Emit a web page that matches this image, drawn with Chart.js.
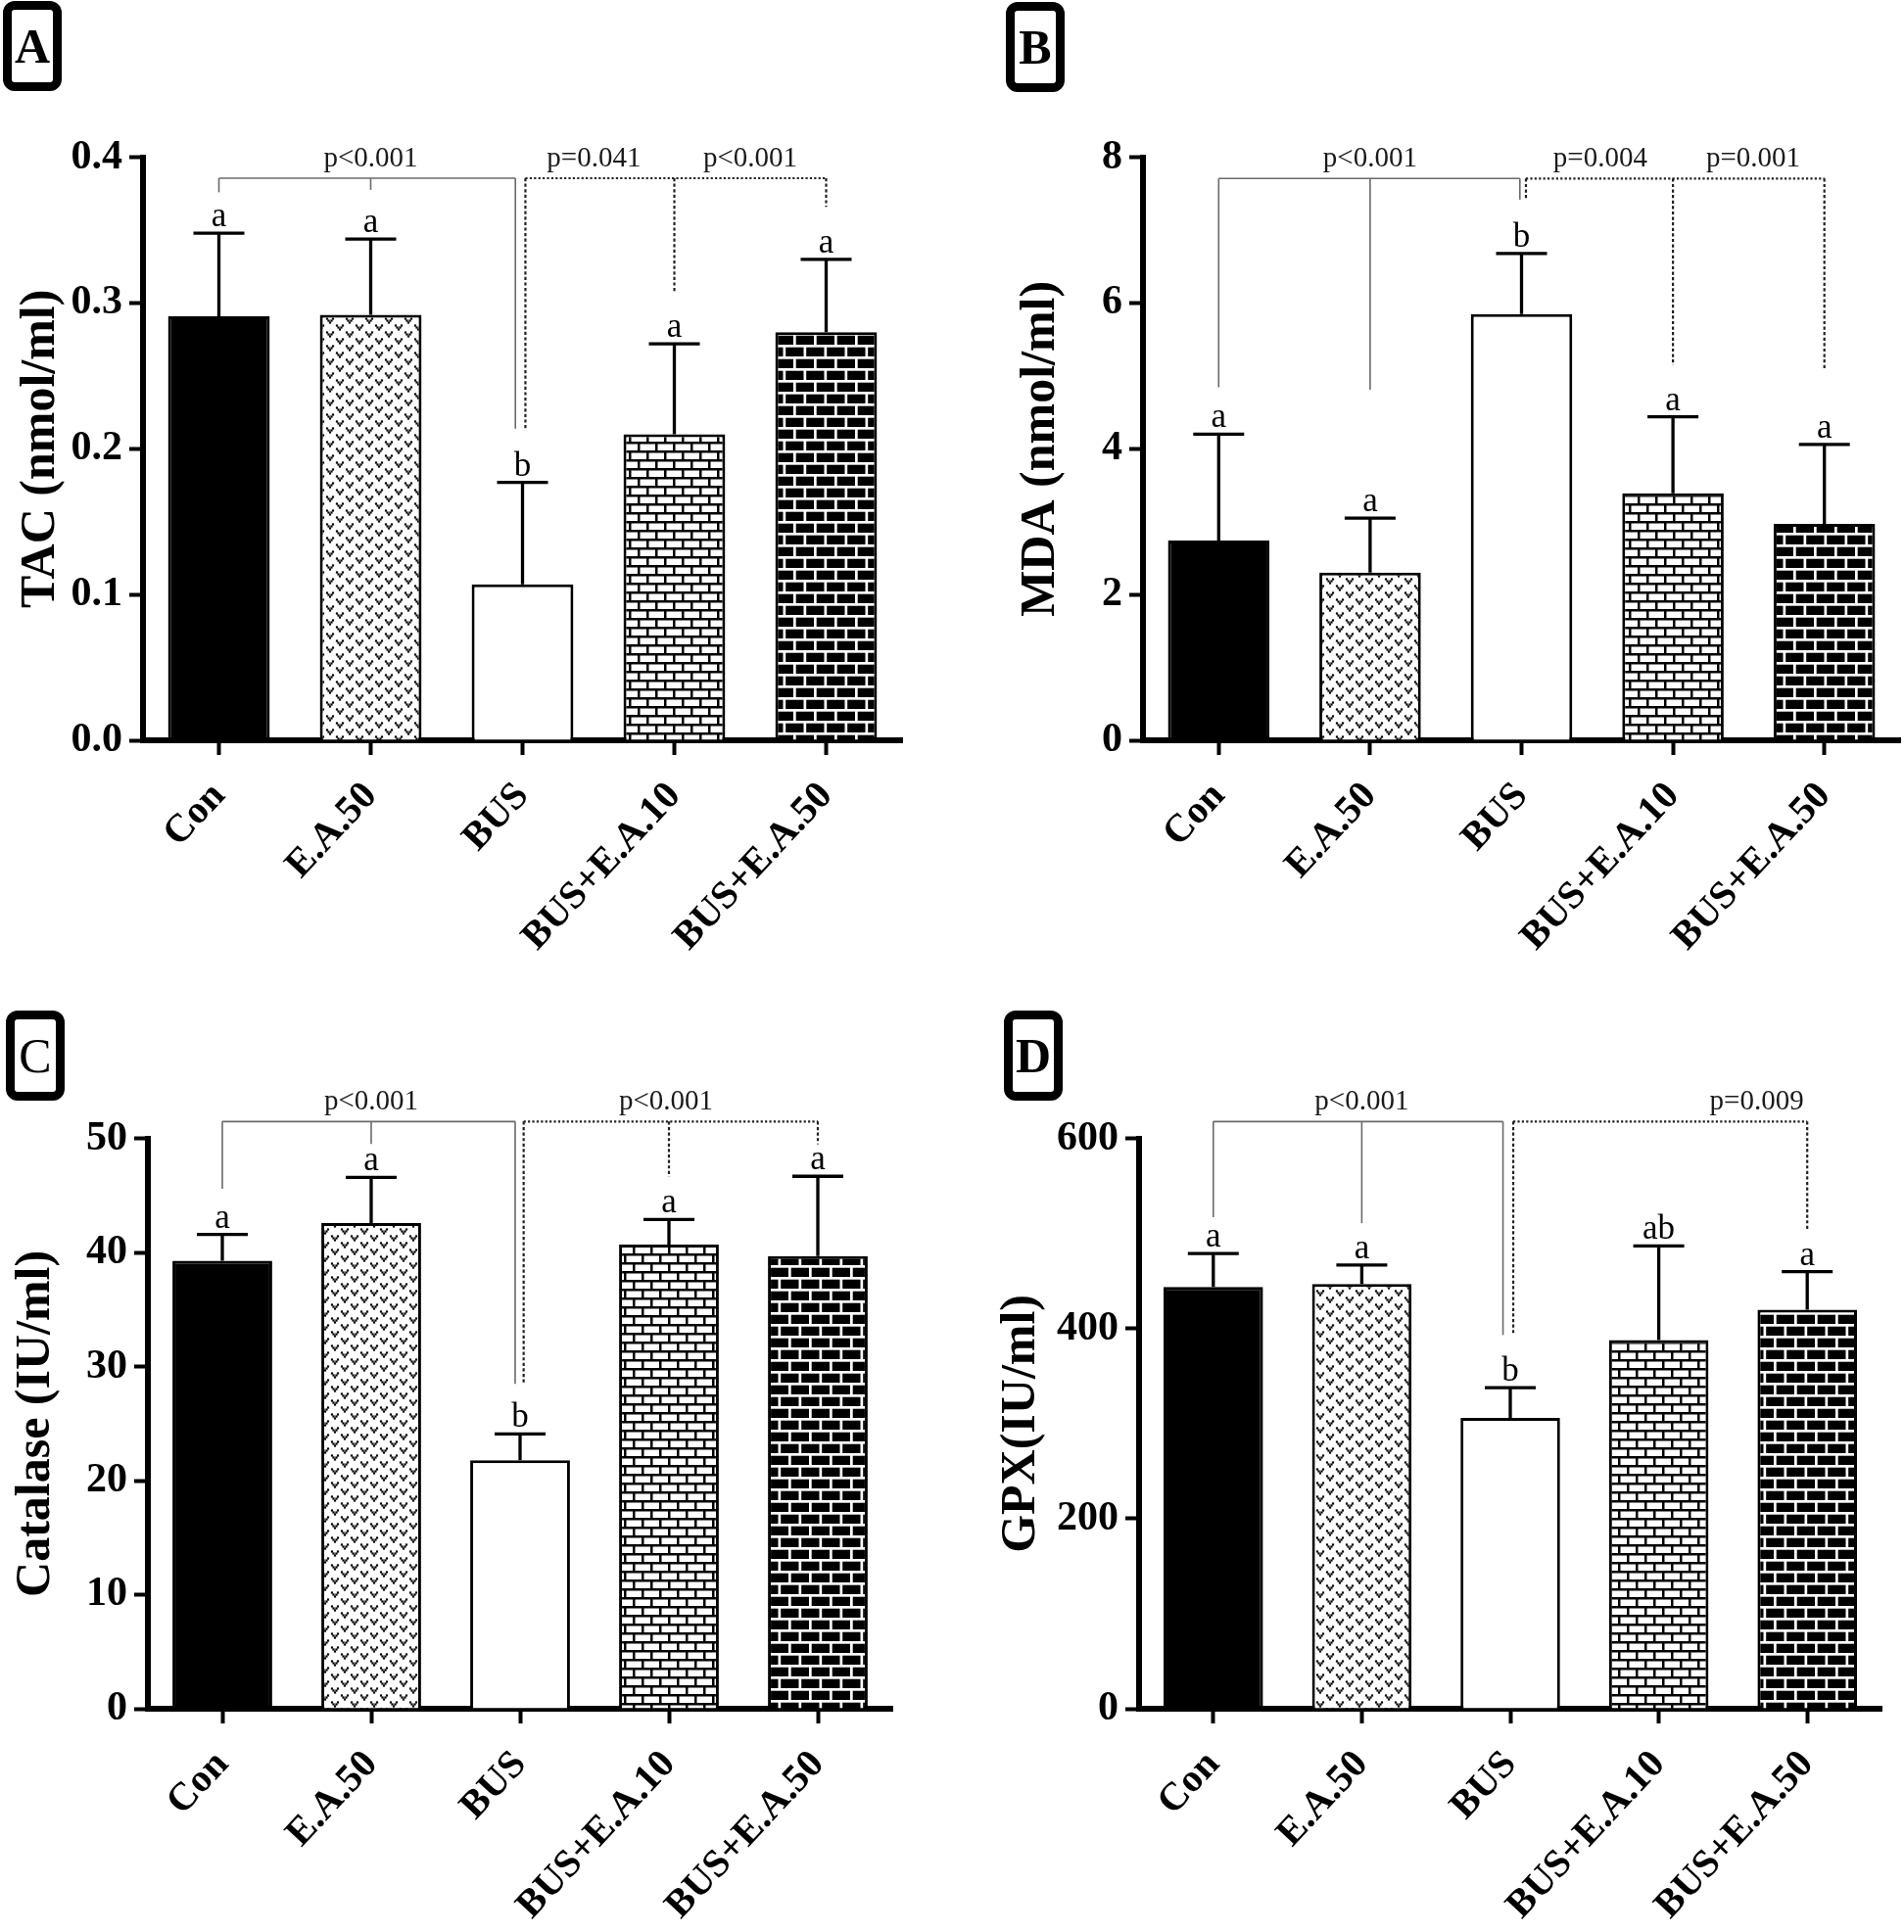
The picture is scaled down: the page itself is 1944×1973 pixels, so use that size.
<!DOCTYPE html>
<html>
<head>
<meta charset="utf-8">
<script src="https://cdn.jsdelivr.net/npm/chart.js@4.4.1/dist/chart.umd.min.js"></script>
<style>
  html,body{margin:0;padding:0;background:#fff;}
  #wrap{position:relative;width:1944px;height:1973px;overflow:hidden;background:#fff;}
  canvas{position:absolute;}
  .lab{position:absolute;width:60px;height:92px;box-sizing:border-box;border:9px solid #000;border-radius:12px;
       display:flex;align-items:center;justify-content:center;font-family:"Liberation Serif";font-size:50px;font-weight:bold;color:#000;line-height:1;}
</style>
</head>
<body>
<div id="wrap">
  <canvas id="cA" width="948" height="900" style="left:12px;top:100px"></canvas>
  <canvas id="cB" width="911" height="900" style="left:1033px;top:100px"></canvas>
  <canvas id="cC" width="953" height="873" style="left:7px;top:1100px"></canvas>
  <canvas id="cD" width="931" height="873" style="left:1013px;top:1100px"></canvas>
  <div class="lab" style="left:3px;top:1px">A</div>
  <div class="lab" style="left:1027px;top:2px">B</div>
  <div class="lab" style="left:6px;top:1032px;font-weight:normal">C</div>
  <div class="lab" style="left:1025px;top:1032px">D</div>
</div>
<script>
// ---------------- data ----------------
const categories = ['Con', 'E.A.50', 'BUS', 'BUS+E.A.10', 'BUS+E.A.50'];

const tacMean = [0.291, 0.292, 0.107, 0.210, 0.280];
const tacSD   = [0.057, 0.052, 0.070, 0.062, 0.050];
const mdaMean = [2.74, 2.30, 5.85, 3.39, 2.97];
const mdaSD   = [1.46, 0.75, 0.83, 1.05, 1.09];
const catMean = [39.3, 42.6, 21.8, 40.7, 39.7];
const catSD   = [2.3, 4.0, 2.3, 2.2, 7.0];
const gpxMean = [444, 447, 306, 388, 420];
const gpxSD   = [35, 20, 32, 99, 40];

const lettersA = ['a', 'a', 'b', 'a', 'a'];
const lettersB = ['a', 'a', 'b', 'a', 'a'];
const lettersC = ['a', 'a', 'b', 'a', 'a'];
const lettersD = ['a', 'a', 'b', 'ab', 'a'];

const tacTicks = [0, 0.1, 0.2, 0.3, 0.4];
const tacTickLabels = ['0.0', '0.1', '0.2', '0.3', '0.4'];
const mdaTicks = [0, 2, 4, 6, 8];
const mdaTickLabels = ['0', '2', '4', '6', '8'];
const catTicks = [0, 10, 20, 30, 40, 50];
const catTickLabels = ['0', '10', '20', '30', '40', '50'];
const gpxTicks = [0, 200, 400, 600];
const gpxTickLabels = ['0', '200', '400', '600'];

const pTextsA = ['p<0.001', 'p=0.041', 'p<0.001'];
const pTextsB = ['p<0.001', 'p=0.004', 'p=0.001'];
const pTextsC = ['p<0.001', 'p<0.001'];
const pTextsD = ['p<0.001', 'p=0.009'];

// ---------------- styling helpers ----------------
const F = 'Liberation Serif';

function makePattern(kind) {
  const c = document.createElement('canvas');
  let g;
  if (kind === 'dots') {
    c.width = 20; c.height = 14; g = c.getContext('2d');
    g.fillStyle = '#fff'; g.fillRect(0, 0, 20, 14);
    g.fillStyle = '#000';
    const motif = (cx, cy) => {
      [[-3, -2], [3, -2], [-1.5, 0], [1.5, 0], [0, 2]].forEach(([dx, dy]) => g.fillRect(cx + dx - 1.1, cy + dy - 1.1, 2.2, 2.2));
    };
    motif(5, 3.5); motif(15, 10.5);
  } else if (kind === 'whiteBrick') {
    c.width = 18; c.height = 18; g = c.getContext('2d');
    g.fillStyle = '#000'; g.fillRect(0, 0, 18, 18);
    g.fillStyle = '#fff';
    g.fillRect(2.5, 2.5, 15.5, 6.5);
    g.fillRect(11.5, 11.5, 15.5, 6.5);
    g.fillRect(-6.5, 11.5, 15.5, 6.5);
  } else {
    c.width = 21; c.height = 24; g = c.getContext('2d');
    g.fillStyle = '#fff'; g.fillRect(0, 0, 21, 24);
    g.fillStyle = '#000';
    g.fillRect(2.7, 2.7, 18.3, 9.3);
    g.fillRect(13.2, 14.7, 18.3, 9.3);
    g.fillRect(-7.8, 14.7, 18.3, 9.3);
  }
  return g.createPattern(c, 'repeat');
}

const fills = ['#000', makePattern('dots'), '#fff', makePattern('whiteBrick'), makePattern('blackBrick')];

function makeOverlay(spec) {
  return {
    id: 'overlay' + spec.key,
    afterDatasetsDraw(chart) {
      const { ctx, scales: { y } } = chart;
      const meta = chart.getDatasetMeta(0);
      ctx.save();
      ctx.strokeStyle = '#000';
      ctx.lineWidth = 3.3;
      spec.mean.forEach((m, i) => {
        const bx = meta.data[i].x;
        const y0 = y.getPixelForValue(m);
        const y1 = y.getPixelForValue(m + spec.sd[i]);
        ctx.beginPath();
        ctx.moveTo(bx, y0); ctx.lineTo(bx, y1);
        ctx.moveTo(bx - 26, y1); ctx.lineTo(bx + 26, y1);
        ctx.stroke();
        ctx.fillStyle = '#000';
        ctx.font = '35px "' + F + '"';
        ctx.textAlign = 'center';
        ctx.textBaseline = 'alphabetic';
        ctx.fillText(spec.letters[i], bx, y1 - 7);
      });
      ctx.restore();
    },
    afterDraw(chart) {
      const { ctx, scales: { x, y } } = chart;
      ctx.save();
      spec.brackets.forEach(b => {
        const by = y.getPixelForValue(b.y);
        if (b.dotted) { ctx.strokeStyle = '#222'; ctx.lineWidth = 2.2; ctx.setLineDash([2.2, 2.2]); }
        else { ctx.strokeStyle = '#6a6a6a'; ctx.lineWidth = 1.6; ctx.setLineDash([]); }
        ctx.beginPath();
        ctx.moveTo(x.getPixelForValue(b.x0), by);
        ctx.lineTo(x.getPixelForValue(b.x1), by);
        ctx.stroke();
        if (b.dotted) ctx.setLineDash([3.2, 2.4]);
        b.legs.forEach(([lx, ly]) => {
          const px = x.getPixelForValue(lx);
          ctx.beginPath();
          ctx.moveTo(px, by);
          ctx.lineTo(px, y.getPixelForValue(ly));
          ctx.stroke();
        });
      });
      ctx.setLineDash([]);
      ctx.fillStyle = '#1a1a1a';
      ctx.font = '29px "' + F + '"';
      ctx.textAlign = 'center';
      ctx.textBaseline = 'alphabetic';
      const py = y.getPixelForValue(spec.brackets[0].y) - 12;
      spec.pvals.forEach(([t, px]) => ctx.fillText(t, x.getPixelForValue(px), py));
      ctx.restore();
    }
  };
}

function makeChart(id, spec) {
  return new Chart(document.getElementById(id), {
    type: 'bar',
    data: {
      labels: categories,
      datasets: [{
        data: spec.mean,
        backgroundColor: fills,
        borderColor: '#000',
        borderWidth: 3,
        borderSkipped: 'start',
        barPercentage: 0.67,
        categoryPercentage: 1
      }]
    },
    options: {
      responsive: false,
      animation: false,
      devicePixelRatio: 1,
      layout: { padding: { top: spec.padTop, right: spec.padRight, left: 0, bottom: 0 } },
      plugins: { legend: { display: false }, tooltip: { enabled: false } },
      scales: {
        x: {
          z: 1,
          offset: true,
          grid: { display: true, drawOnChartArea: false, drawTicks: true, tickLength: 15, tickWidth: 4, tickColor: '#000', offset: false },
          border: { display: true, width: 6, color: '#000' },
          ticks: { autoSkip: false, minRotation: 47, maxRotation: 47, padding: 19, labelOffset: 0, color: '#000',
                   font: { family: F, size: 40, weight: 'bold' } },
          afterFit(s) { s.height = spec.xH; }
        },
        y: {
          min: spec.ticks[0],
          max: spec.ticks[spec.ticks.length - 1],
          afterBuildTicks(s) { s.ticks = spec.ticks.map(v => ({ value: v })); },
          ticks: { callback: (v, i) => spec.tickLabels[i], padding: 7, color: '#000',
                   font: { family: F, size: 42, weight: 'bold' } },
          grid: { display: true, drawOnChartArea: false, drawTicks: true, tickLength: 14, tickWidth: 4, tickColor: '#000' },
          border: { display: true, width: 6, color: '#000' },
          title: { display: true, text: spec.title, color: '#000', padding: { top: 0, bottom: 0 },
                   font: { family: F, size: 50, weight: 'bold', lineHeight: 1.2 } },
          afterFit(s) { s.width = spec.yW; }
        }
      }
    },
    plugins: [makeOverlay(spec)]
  });
}

makeChart('cA', {
  key: 'A', mean: tacMean, sd: tacSD, letters: lettersA, ticks: tacTicks, tickLabels: tacTickLabels,
  title: 'TAC (nmol/ml)', yW: 134, xH: 244, padTop: 60.7, padRight: 39,
  brackets: [
    { dotted: false, y: 0.3857, x0: 0, x1: 1.953, legs: [[0, 0.376], [1, 0.3777], [1.953, 0.2138]] },
    { dotted: true, y: 0.3857, x0: 2.019, x1: 4, legs: [[2.019, 0.2138], [3, 0.3075], [4, 0.366]] }
  ],
  pvals: [[pTextsA[0], 1], [pTextsA[1], 2.47], [pTextsA[2], 3.5]]
});

makeChart('cB', {
  key: 'B', mean: mdaMean, sd: mdaSD, letters: lettersB, ticks: mdaTicks, tickLabels: mdaTickLabels,
  title: 'MDA (nmol/ml)', yW: 134, xH: 244, padTop: 60.7, padRight: 4,
  brackets: [
    { dotted: false, y: 7.71, x0: 0, x1: 1.989, legs: [[0, 4.845], [1, 4.81], [1.989, 7.42]] },
    { dotted: true, y: 7.71, x0: 2.029, x1: 4, legs: [[2.029, 7.42], [3, 5.147], [4, 5.08]] }
  ],
  pvals: [[pTextsB[0], 1], [pTextsB[1], 2.52], [pTextsB[2], 3.53]]
});

makeChart('cC', {
  key: 'C', mean: catMean, sd: catSD, letters: lettersC, ticks: catTicks, tickLabels: catTickLabels,
  title: 'Catalase (IU/ml)', yW: 144, xH: 228, padTop: 62.8, padRight: 49,
  brackets: [
    { dotted: false, y: 51.5, x0: 0, x1: 1.967, legs: [[0, 45.6], [1, 49.53], [1.967, 28.5]] },
    { dotted: true, y: 51.5, x0: 2.024, x1: 4, legs: [[2.024, 28.5], [3, 46.67], [4, 49.5]] }
  ],
  pvals: [[pTextsC[0], 1], [pTextsC[1], 2.98]]
});

makeChart('cD', {
  key: 'D', mean: gpxMean, sd: gpxSD, letters: lettersD, ticks: gpxTicks, tickLabels: gpxTickLabels,
  title: 'GPX(IU/ml)', yW: 150, xH: 228, padTop: 62.8, padRight: 23,
  brackets: [
    { dotted: false, y: 618, x0: 0, x1: 1.951, legs: [[0, 517.4], [1, 511], [1.951, 393.3]] },
    { dotted: true, y: 618, x0: 2.02, x1: 4, legs: [[2.02, 393.3], [4, 503.6]] }
  ],
  pvals: [[pTextsD[0], 1], [pTextsD[1], 3.66]]
});
</script>
</body>
</html>
